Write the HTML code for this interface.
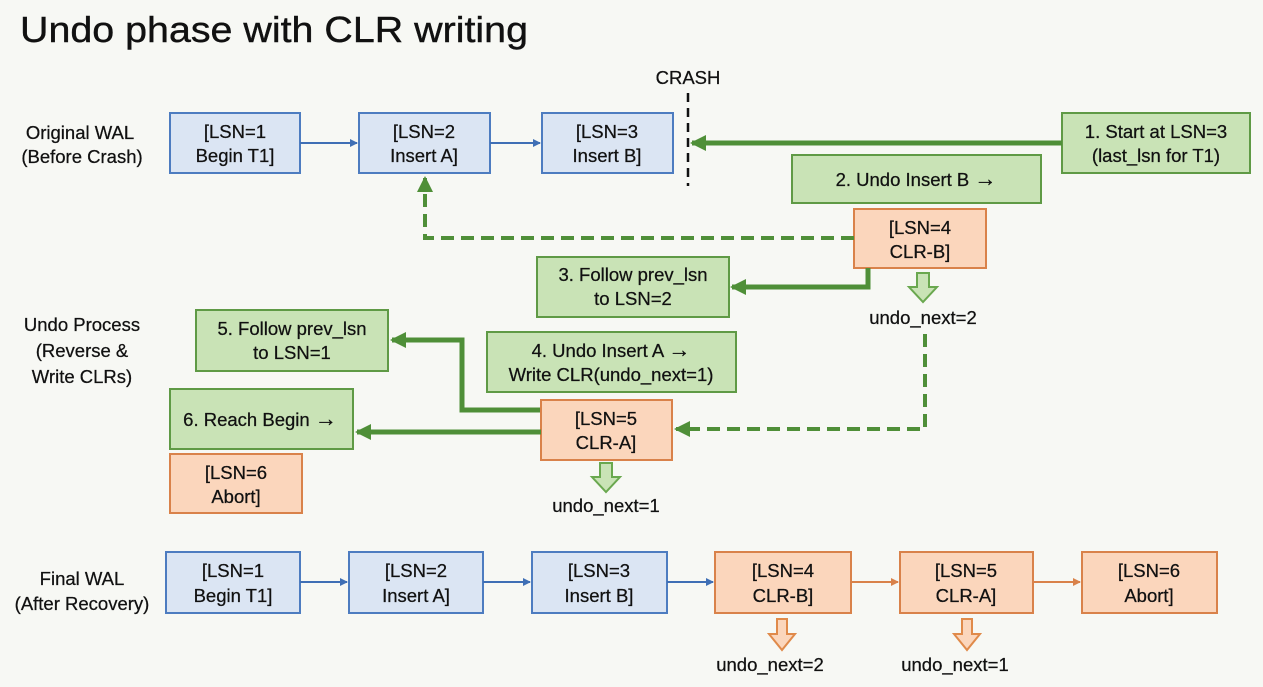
<!DOCTYPE html>
<html><head><meta charset="utf-8"><style>
html,body{margin:0;padding:0;background:#f7f8f4;}
svg{display:block}
text{font-family:"Liberation Sans",sans-serif;fill:#111;}
.b{fill:#dbe5f3;stroke:#4d7cc0;stroke-width:2}
.g{fill:#c9e3b6;stroke:#5f9a45;stroke-width:2}
.o{fill:#fbd6bc;stroke:#d9824a;stroke-width:2}
.t{font-size:18.5px;text-anchor:middle;stroke:#111;stroke-width:0.25}
.ar{font-size:22px}
</style></head><body>
<svg width="1263" height="687" viewBox="0 0 1263 687" xmlns="http://www.w3.org/2000/svg">
<defs>
<marker id="ab" markerWidth="8" markerHeight="8" refX="7" refY="4" orient="auto" markerUnits="userSpaceOnUse"><path d="M0,0 L8,4 L0,8z" fill="#3f6fb5"/></marker>
<marker id="ao" markerWidth="8" markerHeight="8" refX="7" refY="4" orient="auto" markerUnits="userSpaceOnUse"><path d="M0,0 L8,4 L0,8z" fill="#d9824a"/></marker>
<marker id="ag" markerWidth="16" markerHeight="16" refX="14" refY="8" orient="auto" markerUnits="userSpaceOnUse"><path d="M0,0 L16,8 L0,16z" fill="#4f8f38"/></marker>
</defs>
<text x="20" y="42" style="font-size:36px;stroke:#111;stroke-width:0.4" textLength="508" lengthAdjust="spacingAndGlyphs">Undo phase with CLR writing</text>

<text class="t" x="80" y="139">Original WAL</text>
<text class="t" x="82" y="163">(Before Crash)</text>
<text class="t" x="82" y="331">Undo Process</text>
<text class="t" x="82" y="357">(Reverse &amp;</text>
<text class="t" x="82" y="383">Write CLRs)</text>
<text class="t" x="82" y="585">Final WAL</text>
<text class="t" x="82" y="610">(After Recovery)</text>

<rect class="b" x="170" y="113" width="130" height="60"/>
<text class="t" x="235" y="138">[LSN=1</text><text class="t" x="235" y="162">Begin T1]</text>
<rect class="b" x="359" y="113" width="131" height="60"/>
<text class="t" x="424" y="138">[LSN=2</text><text class="t" x="424" y="162">Insert A]</text>
<rect class="b" x="542" y="113" width="131" height="60"/>
<text class="t" x="607" y="138">[LSN=3</text><text class="t" x="607" y="162">Insert B]</text>
<line x1="300" y1="143" x2="357" y2="143" stroke="#3f6fb5" stroke-width="2" marker-end="url(#ab)"/>
<line x1="490" y1="143" x2="540" y2="143" stroke="#3f6fb5" stroke-width="2" marker-end="url(#ab)"/>
<text class="t" x="688" y="84">CRASH</text>
<line x1="688" y1="93" x2="688" y2="186" stroke="#111" stroke-width="2.5" stroke-dasharray="9,6"/>

<rect class="g" x="1062" y="113" width="188" height="60"/>
<text class="t" x="1156" y="138">1. Start at LSN=3</text><text class="t" x="1156" y="162">(last_lsn for T1)</text>
<line x1="1062" y1="143" x2="692" y2="143" stroke="#4f8f38" stroke-width="5" marker-end="url(#ag)"/>

<rect class="g" x="792" y="155" width="249" height="48"/>
<text class="t" x="916" y="186">2. Undo Insert B <tspan class="ar">→</tspan></text>

<rect class="o" x="854" y="209" width="132" height="59"/>
<text class="t" x="920" y="234">[LSN=4</text><text class="t" x="920" y="258">CLR-B]</text>
<path d="M854,238 L425,238 L425,178" fill="none" stroke="#4f8f38" stroke-width="4" stroke-dasharray="13,7" marker-end="url(#ag)"/>

<rect class="g" x="537" y="257" width="192" height="60"/>
<text class="t" x="633" y="281">3. Follow prev_lsn</text><text class="t" x="633" y="305">to LSN=2</text>
<path d="M868,268 L868,287 L732,287" fill="none" stroke="#4f8f38" stroke-width="5" marker-end="url(#ag)"/>

<path d="M917,273 h12 v14 h8 l-14,15 l-14,-15 h8z" fill="#c9e3b6" stroke="#6aa84f" stroke-width="2"/>
<text class="t" x="923" y="324">undo_next=2</text>
<path d="M925,334 L925,429 L676,429" fill="none" stroke="#4f8f38" stroke-width="4" stroke-dasharray="13,7" marker-end="url(#ag)"/>

<rect class="g" x="196" y="310" width="192" height="61"/>
<text class="t" x="292" y="335">5. Follow prev_lsn</text><text class="t" x="292" y="359">to LSN=1</text>
<rect class="g" x="487" y="332" width="249" height="60"/>
<text class="t" x="611" y="357">4. Undo Insert A <tspan class="ar">→</tspan></text><text class="t" x="611" y="381">Write CLR(undo_next=1)</text>
<path d="M541,410 L462,410 L462,340 L392,340" fill="none" stroke="#4f8f38" stroke-width="5" marker-end="url(#ag)"/>

<rect class="g" x="170" y="389" width="183" height="60"/>
<text class="t" x="260" y="426">6. Reach Begin <tspan class="ar">→</tspan></text>
<rect class="o" x="541" y="400" width="131" height="60"/>
<text class="t" x="606" y="425">[LSN=5</text><text class="t" x="606" y="449">CLR-A]</text>
<line x1="541" y1="432" x2="357" y2="432" stroke="#4f8f38" stroke-width="5" marker-end="url(#ag)"/>

<rect class="o" x="170" y="454" width="132" height="59"/>
<text class="t" x="236" y="479">[LSN=6</text><text class="t" x="236" y="503">Abort]</text>

<path d="M600,463 h12 v14 h8 l-14,15 l-14,-15 h8z" fill="#c9e3b6" stroke="#6aa84f" stroke-width="2"/>
<text class="t" x="606" y="512">undo_next=1</text>

<rect class="b" x="166" y="552" width="134" height="61"/>
<text class="t" x="233" y="577">[LSN=1</text><text class="t" x="233" y="602">Begin T1]</text>
<rect class="b" x="349" y="552" width="134" height="61"/>
<text class="t" x="416" y="577">[LSN=2</text><text class="t" x="416" y="602">Insert A]</text>
<rect class="b" x="532" y="552" width="135" height="61"/>
<text class="t" x="599" y="577">[LSN=3</text><text class="t" x="599" y="602">Insert B]</text>
<rect class="o" x="715" y="552" width="136" height="61"/>
<text class="t" x="783" y="577">[LSN=4</text><text class="t" x="783" y="602">CLR-B]</text>
<rect class="o" x="900" y="552" width="133" height="61"/>
<text class="t" x="966" y="577">[LSN=5</text><text class="t" x="966" y="602">CLR-A]</text>
<rect class="o" x="1082" y="552" width="135" height="61"/>
<text class="t" x="1149" y="577">[LSN=6</text><text class="t" x="1149" y="602">Abort]</text>
<line x1="300" y1="582" x2="347" y2="582" stroke="#3f6fb5" stroke-width="2" marker-end="url(#ab)"/>
<line x1="483" y1="582" x2="530" y2="582" stroke="#3f6fb5" stroke-width="2" marker-end="url(#ab)"/>
<line x1="667" y1="582" x2="713" y2="582" stroke="#3f6fb5" stroke-width="2" marker-end="url(#ab)"/>
<line x1="851" y1="582" x2="898" y2="582" stroke="#d9824a" stroke-width="2" marker-end="url(#ao)"/>
<line x1="1033" y1="582" x2="1080" y2="582" stroke="#d9824a" stroke-width="2" marker-end="url(#ao)"/>

<path d="M777,619 h10 v15 h8 l-13,16 l-13,-16 h8z" fill="#fbd6bc" stroke="#e08a4a" stroke-width="2"/>
<text class="t" x="770" y="671">undo_next=2</text>
<path d="M962,619 h10 v15 h8 l-13,16 l-13,-16 h8z" fill="#fbd6bc" stroke="#e08a4a" stroke-width="2"/>
<text class="t" x="955" y="671">undo_next=1</text>
</svg>
</body></html>
